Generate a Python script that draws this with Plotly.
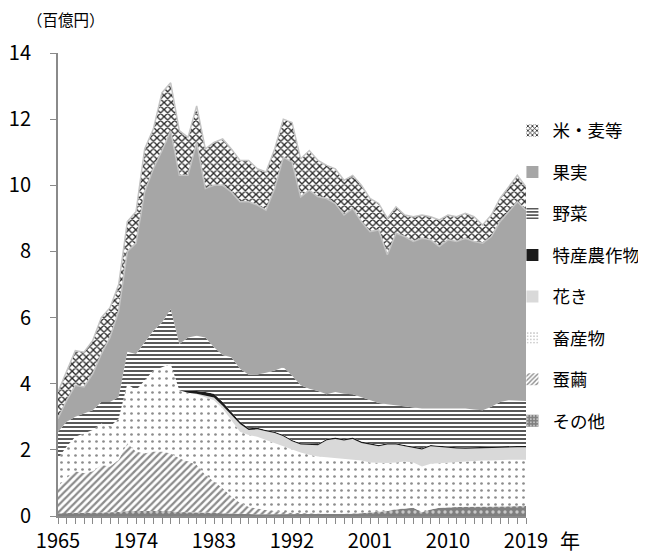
import plotly.graph_objects as go

years = list(range(1965, 2020))
x_tick_labels = {1965: "1965", 1974: "1974", 1983: "1983", 1992: "1992", 2001: "2001", 2010: "2010", 2019: "2019"}

series_names = ["その他", "蚕繭", "畜産物", "花き", "特産農作物", "野菜", "果実", "米・麦等"]

sonota = [0.08, 0.1, 0.1, 0.1, 0.1, 0.12, 0.12, 0.12, 0.15, 0.15,
          0.15, 0.15, 0.15, 0.15, 0.12, 0.12, 0.12, 0.1, 0.1, 0.08,
          0.08, 0.06, 0.06, 0.05, 0.05, 0.05, 0.05, 0.05, 0.05, 0.05,
          0.05, 0.05, 0.05, 0.06, 0.07, 0.08, 0.1, 0.13, 0.15, 0.2,
          0.22, 0.25, 0.12, 0.2, 0.25, 0.27, 0.27, 0.28, 0.28, 0.3,
          0.3, 0.3, 0.3, 0.3, 0.3]
kaiko = [0.82, 1.05, 1.25, 1.2, 1.25, 1.43, 1.38, 1.58, 2.05, 1.8,
         1.75, 1.8, 1.8, 1.75, 1.63, 1.53, 1.43, 1.15, 0.95, 0.77,
         0.52, 0.34, 0.22, 0.17, 0.13, 0.1, 0.07, 0.05, 0.04, 0.03,
         0.02, 0.02, 0.01, 0.01, 0.01, 0.01, 0.01, 0.01, 0.01, 0.01,
         0.01, 0, 0, 0, 0, 0, 0, 0, 0, 0,
         0, 0, 0, 0, 0]
chikusan = [0.85, 0.95, 1.05, 1.2, 1.25, 1.25, 1.2, 1.25, 1.8, 1.85,
            2.2, 2.45, 2.55, 2.7, 2.05, 2.07, 2.13, 2.35, 2.45, 2.4,
            2.3, 2.15, 2.17, 2.18, 2.12, 2.05, 1.98, 1.9, 1.83, 1.77,
            1.73, 1.71, 1.69, 1.65, 1.62, 1.59, 1.51, 1.46, 1.44, 1.41,
            1.42, 1.37, 1.38, 1.38, 1.35, 1.35, 1.36, 1.37, 1.39, 1.38,
            1.38, 1.4, 1.4, 1.4, 1.4]
kaki = [0, 0, 0, 0, 0, 0, 0, 0, 0, 0,
        0, 0, 0, 0, 0, 0.01, 0.02, 0.05, 0.08, 0.08,
        0.15, 0.23, 0.15, 0.22, 0.26, 0.31, 0.31, 0.26, 0.24, 0.29,
        0.34, 0.51, 0.58, 0.56, 0.63, 0.53, 0.54, 0.51, 0.56, 0.54,
        0.46, 0.44, 0.51, 0.53, 0.48, 0.44, 0.41, 0.38, 0.37, 0.38,
        0.38, 0.38, 0.38, 0.38, 0.38]
tokusan = [0, 0, 0, 0, 0, 0, 0, 0, 0, 0,
           0, 0, 0, 0, 0, 0.07, 0.08, 0.1, 0.12, 0.12,
           0.1, 0.07, 0.05, 0.05, 0.04, 0.04, 0.04, 0.04, 0.04, 0.04,
           0.04, 0.04, 0.04, 0.04, 0.04, 0.04, 0.04, 0.04, 0.04, 0.04,
           0.04, 0.04, 0.04, 0.04, 0.04, 0.04, 0.04, 0.04, 0.04, 0.04,
           0.04, 0.04, 0.04, 0.04, 0.04]
yasai = [0.8, 0.75, 0.6, 0.6, 0.6, 0.65, 0.75, 0.65, 0.97, 1.1,
         1.15, 1.2, 1.35, 1.65, 1.4, 1.6, 1.67, 1.65, 1.4, 1.42,
         1.65, 1.6, 1.62, 1.61, 1.73, 1.85, 2.05, 1.95, 1.75, 1.67,
         1.6, 1.35, 1.38, 1.38, 1.31, 1.35, 1.3, 1.27, 1.18, 1.15,
         1.17, 1.18, 1.2, 1.1, 1.13, 1.15, 1.17, 1.18, 1.14, 1.1,
         1.2, 1.33, 1.38, 1.38, 1.36]
kajitsu = [0.4, 0.65, 0.95, 0.8, 1.1, 1.45, 1.95, 2.6, 3.03, 3.35,
           4.55, 4.9, 5.2, 5.4, 5.1, 4.9, 5.85, 4.5, 4.9, 5.13,
           5.0, 5.05, 5.23, 5.12, 4.92, 5.5, 6.35, 6.45, 5.7, 6.0,
           5.87, 5.92, 5.7, 5.4, 5.62, 5.3, 5.1, 5.23, 4.52, 5.2,
           5.13, 5.02, 5.15, 5.1, 4.9, 5.1, 5.05, 5.15, 5.08, 5.05,
           5.15, 5.45, 5.7, 6.0, 5.77]
komemugi = [0.8, 0.85, 1.05, 1.05, 1.0, 1.1, 0.9, 0.8, 0.9, 0.95,
            1.3, 1.2, 1.75, 1.45, 1.35, 1.15, 1.1, 1.2, 1.3, 1.4,
            1.3, 1.25, 1.25, 1.1, 1.15, 1.2, 1.15, 1.2, 1.15, 1.2,
            1.1, 1.0, 1.05, 1.05, 1.0, 1.1, 1.0, 0.8, 1.1, 0.8,
            0.65, 0.75, 0.7, 0.7, 0.8, 0.75, 0.75, 0.75, 0.75, 0.55,
            0.65, 0.7, 0.75, 0.8, 0.7]

values = [sonota, kaiko, chikusan, kaki, tokusan, yasai, kajitsu, komemugi]

styles = [
    dict(bg="#7f7f7f", fg="#c8c8c8", shape=".", size=6, sol=0.25),
    dict(bg="#ffffff", fg="#8c8c8c", shape="/", size=5, sol=0.45),
    dict(bg="#ffffff", fg="#8c8c8c", shape=".", size=7, sol=0.12),
    dict(bg="#d9d9d9", fg="#d9d9d9", shape="", size=6, sol=0.3),
    dict(bg="#1a1a1a", fg="#1a1a1a", shape="", size=6, sol=0.3),
    dict(bg="#ffffff", fg="#595959", shape="-", size=4, sol=0.5),
    dict(bg="#a6a6a6", fg="#a6a6a6", shape="", size=6, sol=0.3),
    dict(bg="#ffffff", fg="#262626", shape="x", size=5, sol=0.45),
]
outline = [None, None, None, None, None, None, "#c4c4c4", "#c4c4c4"]

fig = go.Figure()
for name, vals, st, oc in zip(series_names, values, styles, outline):
    kw = {}
    if st["shape"]:
        kw["fillpattern"] = dict(shape=st["shape"], fgcolor=st["fg"], bgcolor=st["bg"],
                                 size=st["size"], solidity=st["sol"], fillmode="replace")
    fig.add_trace(go.Scatter(x=years, y=vals, name=name, stackgroup="one", mode="lines",
                             line=dict(width=1.5 if oc else 0, color=oc or st["bg"]),
                             fillcolor=st["bg"], showlegend=False, hoverinfo="skip", **kw))

# legend swatches (zero-height bars), top series first
for name, st in reversed(list(zip(series_names, styles))):
    mk = dict(color=st["bg"], line=dict(width=0))
    if st["shape"]:
        mk["pattern"] = dict(shape=st["shape"], fgcolor=st["fg"], bgcolor=st["bg"],
                             size=4, solidity=st["sol"], fillmode="replace")
    fig.add_trace(go.Bar(x=[2019], y=[0], name=name, marker=mk, legendgroup=name,
                         showlegend=True, hoverinfo="skip"))

fig.update_layout(
    width=638, height=549,
    margin=dict(l=50, r=120, t=45, b=41, autoexpand=False),
    plot_bgcolor="white", paper_bgcolor="white",
    font=dict(family="Noto Sans CJK JP", color="#000000"),
    showlegend=True,
    legend=dict(x=0.971, y=0.871, xanchor="left", yanchor="top",
                traceorder="grouped", tracegroupgap=15.7,
                font=dict(size=17.5), itemwidth=30, bgcolor="rgba(0,0,0,0)"),
    xaxis=dict(range=[1965, 2019], tickmode="array", tickvals=years,
               ticktext=[x_tick_labels.get(y, "") for y in years],
               ticks="outside", ticklen=6, tickcolor="#8a8a8a", tickwidth=1,
               showline=True, linecolor="#8a8a8a", linewidth=2, automargin=False,
               showgrid=False, zeroline=False, tickfont=dict(size=20)),
    yaxis=dict(range=[0, 14], dtick=2, ticks="outside", ticklen=6, tickcolor="#8a8a8a",
               showline=True, linecolor="#8a8a8a", linewidth=2, showgrid=False, automargin=False,
               zeroline=False, tickfont=dict(size=20), ticklabelstandoff=15),
    annotations=[
        dict(text="（百億円）", xref="paper", yref="paper", x=0.105, y=1.0734,
             xanchor="right", yanchor="middle", showarrow=False, font=dict(size=15.5)),
        dict(text="年", xref="paper", yref="paper", x=1.068, y=-0.052,
             xanchor="left", yanchor="middle", showarrow=False, font=dict(size=20)),
    ],
)

fig.write_html("out.html")
